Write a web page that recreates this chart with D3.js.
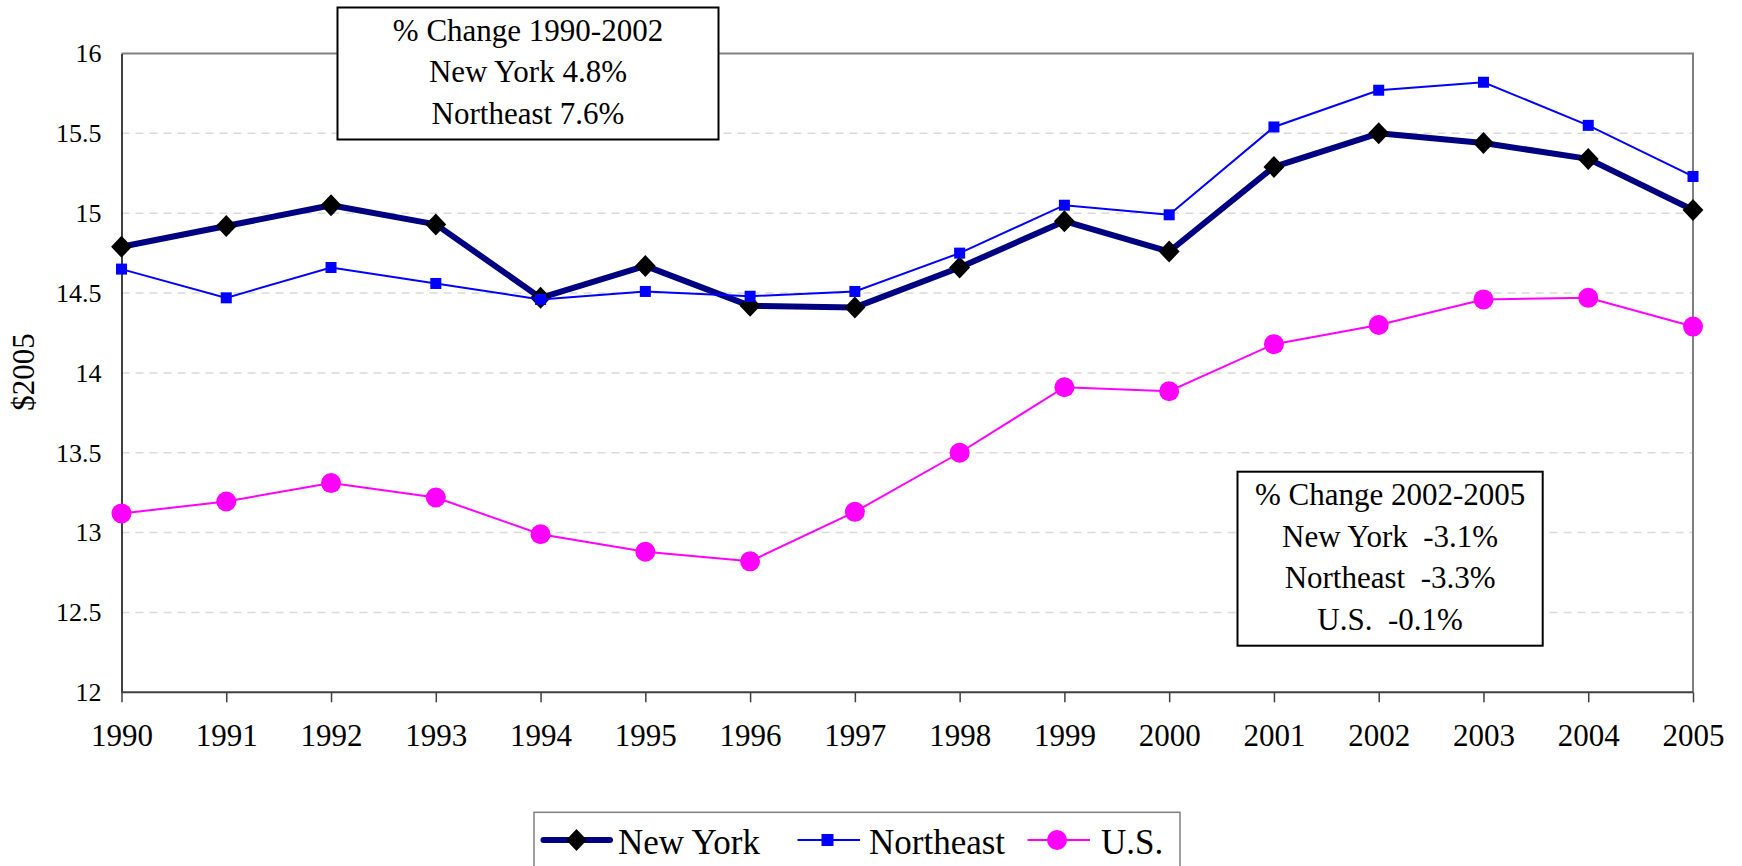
<!DOCTYPE html>
<html>
<head>
<meta charset="utf-8">
<script src="https://cdn.jsdelivr.net/npm/d3@7"></script>
<style>
html,body{margin:0;padding:0;background:#fff;}
svg text{font-family:"Liberation Serif","Times New Roman",Times,serif !important;white-space:pre;}
</style>
</head>
<body>
<svg id="chart" width="1742" height="866"></svg>
<script>
const years = [1990,1991,1992,1993,1994,1995,1996,1997,1998,1999,2000,2001,2002,2003,2004,2005];
const newYork = [14.79,14.92,15.05,14.93,14.47,14.67,14.42,14.41,14.66,14.95,14.76,15.29,15.50,15.44,15.34,15.02];
const northeast = [14.65,14.47,14.66,14.56,14.46,14.51,14.48,14.51,14.75,15.05,14.99,15.54,15.77,15.82,15.55,15.23];
const us = [13.12,13.195,13.31,13.22,12.99,12.88,12.82,13.13,13.50,13.91,13.885,14.18,14.30,14.46,14.47,14.29];
const yTicks = [12,12.5,13,13.5,14,14.5,15,15.5,16];
const box1Lines = ["% Change 1990-2002","New York 4.8%","Northeast 7.6%"];
const box2Lines = ["% Change 2002-2005","New York  -3.1%","Northeast  -3.3%","U.S.  -0.1%"];
const seriesNames = ["New York","Northeast","U.S."];
const yTitle = "$2005";

const FF = '"Liberation Serif","Times New Roman",serif';
const svg = d3.select("#chart");
const L = 121.5, R = 1693, T = 53.5, B = 692.3;
const x = d3.scalePoint().domain(years).range([L, R]);
const y = d3.scaleLinear().domain([12,16]).range([B, T]);

// gridlines
svg.append("g").selectAll("line").data(yTicks.filter(v => v > 12 && v < 16)).join("line")
  .attr("x1", L).attr("x2", R).attr("y1", d => y(d)).attr("y2", d => y(d))
  .attr("stroke", "#d9d9d9").attr("stroke-width", 1.5).attr("stroke-dasharray", "8,6");

// top and right border
svg.append("path").attr("d", `M${L},${T}H${R}V${B}`).attr("fill","none").attr("stroke","#808080").attr("stroke-width",2);

// y axis
const yAxis = d3.axisLeft(y).tickValues(yTicks).tickSize(0).tickPadding(20).tickFormat(d => d3.format("")(d));
const gy = svg.append("g").attr("transform", `translate(${L},0)`).call(yAxis);
gy.select(".domain").attr("stroke","#404040").attr("stroke-width",2);
gy.selectAll("text").attr("font-size", 26).style("font-family", FF).attr("fill","#000");

// x axis
const xAxis = d3.axisBottom(x).tickSize(10).tickPadding(22);
const gx = svg.append("g").attr("transform", `translate(0,${B})`).call(xAxis);
gx.select(".domain").attr("stroke","#404040").attr("stroke-width",2).attr("d", `M${L},0H${R}`);
gx.selectAll(".tick line").attr("stroke","#404040").attr("stroke-width",1.5);
gx.selectAll("text").attr("font-size", 31).style("font-family", FF).attr("fill","#000");

// y title
svg.append("text").attr("transform", "translate(34,372) rotate(-90)").attr("text-anchor","middle")
  .attr("font-size", 31).style("font-family", FF).text(yTitle);

const line = d3.line().x((d,i) => x(years[i])).y(d => y(d));

// New York
svg.append("path").datum(newYork).attr("d", line).attr("fill","none").attr("stroke","#000080").attr("stroke-width",6).attr("stroke-linejoin","round");
const diamond = s => `M0,${-s}L${s*0.95},0L0,${s}L${-s*0.95},0Z`;
svg.append("g").selectAll("path").data(newYork).join("path")
  .attr("transform", (d,i) => `translate(${x(years[i])},${y(d)})`).attr("d", diamond(11)).attr("fill","#000");

// Northeast
svg.append("path").datum(northeast).attr("d", line).attr("fill","none").attr("stroke","#0000ff").attr("stroke-width",2);
svg.append("g").selectAll("rect").data(northeast).join("rect")
  .attr("x", (d,i) => x(years[i]) - 5.5).attr("y", d => y(d) - 5.5).attr("width", 11).attr("height", 11).attr("fill","#0000ff");

// U.S.
svg.append("path").datum(us).attr("d", line).attr("fill","none").attr("stroke","#ff00ff").attr("stroke-width",2);
svg.append("g").selectAll("circle").data(us).join("circle")
  .attr("cx", (d,i) => x(years[i])).attr("cy", d => y(d)).attr("r", 10).attr("fill","#ff00ff");

// annotation boxes
function box(x0, y0, x1, y1, lines, firstBase, step) {
  const g = svg.append("g");
  g.append("rect").attr("x", x0).attr("y", y0).attr("width", x1 - x0).attr("height", y1 - y0)
    .attr("fill","#fff").attr("stroke","#000").attr("stroke-width",2);
  g.selectAll("text").data(lines).join("text")
    .attr("x", (x0 + x1) / 2).attr("y", (d,i) => firstBase + i * step)
    .attr("text-anchor","middle").attr("font-size", 31).style("font-family", FF).attr("fill","#000").text(d => d);
}
box(337.5, 7.5, 718.5, 139.5, box1Lines, 40.7, 41.7);
box(1237.5, 471.7, 1542.7, 645.7, box2Lines, 505, 41.7);

// legend
const lg = svg.append("g");
lg.append("rect").attr("x", 534).attr("y", 812.3).attr("width", 646).attr("height", 80)
  .attr("fill","#fff").attr("stroke","#808080").attr("stroke-width",1.5);
const ly = 840;
lg.append("line").attr("x1",543.5).attr("x2",610).attr("y1",ly).attr("y2",ly).attr("stroke","#000080").attr("stroke-width",6).attr("stroke-linecap","round");
lg.append("path").attr("transform",`translate(576.5,${ly})`).attr("d", diamond(11)).attr("fill","#000");
lg.append("text").attr("x",618).attr("y",853.5).attr("font-size",35).style("font-family", FF).text(seriesNames[0]);
lg.append("line").attr("x1",797.5).attr("x2",860).attr("y1",ly).attr("y2",ly).attr("stroke","#0000ff").attr("stroke-width",2);
lg.append("rect").attr("x",827.5-6).attr("y",ly-6).attr("width",12).attr("height",12).attr("fill","#0000ff");
lg.append("text").attr("x",869).attr("y",853.5).attr("font-size",35).style("font-family", FF).text(seriesNames[1]);
lg.append("line").attr("x1",1027.5).attr("x2",1090).attr("y1",ly).attr("y2",ly).attr("stroke","#ff00ff").attr("stroke-width",2);
lg.append("circle").attr("cx",1057).attr("cy",ly).attr("r",10).attr("fill","#ff00ff");
lg.append("text").attr("x",1101).attr("y",853.5).attr("font-size",35).style("font-family", FF).text(seriesNames[2]);
</script>
</body>
</html>
